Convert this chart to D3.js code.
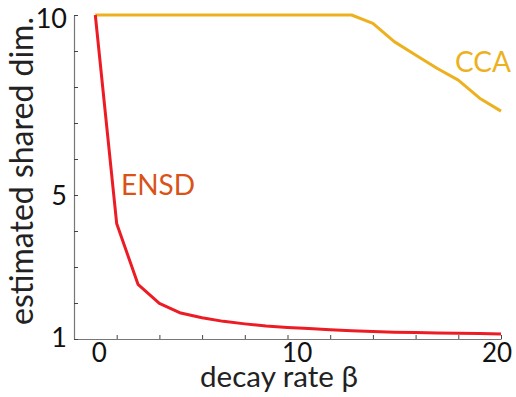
<!DOCTYPE html>
<html><head><meta charset="utf-8">
<script src="https://cdn.jsdelivr.net/npm/d3@7"></script>
<style>html,body{margin:0;padding:0;background:#fff;}svg{display:block;}</style>
</head><body>
<svg id="c" width="516" height="397"></svg>
<script>
// data
const betaValues = [0, 1.053, 2.105, 3.158, 4.211, 5.263, 6.316, 7.368, 8.421, 9.474, 10.526, 11.579, 12.632, 13.684, 14.737, 15.789, 16.842, 17.895, 18.947, 20];
const ensdValues = [10, 4.21, 2.52, 1.99, 1.72, 1.59, 1.49, 1.42, 1.36, 1.32, 1.29, 1.26, 1.23, 1.21, 1.19, 1.18, 1.17, 1.16, 1.15, 1.14];
const ccaValues  = [10, 10, 10, 10, 10, 10, 10, 10, 10, 10, 10, 10, 10, 9.77, 9.26, 8.89, 8.52, 8.19, 7.69, 7.33];
const xTickLabels = [0, 10, 20];
const yTickLabels = [1, 5, 10];
const xLabel = "decay rate β";
const yLabel = "estimated shared dim.";
const seriesNames = ["ENSD", "CCA"];

const svg = d3.select("#c");
const font = "Lato, 'Open Sans', sans-serif";
const x = d3.scaleLinear().domain([-1.05, 20]).range([74, 501]);
const y = d3.scaleLinear().domain([1, 10]).range([339, 15]);

const axisColor = "#444";
const xMinor = d3.range(11).map(i => x.domain()[0] + i * (x.domain()[1] - x.domain()[0]) / 10);
const yMinor = d3.range(1, 11);

svg.append("g").attr("transform", `translate(0,${y(1)})`)
  .call(d3.axisBottom(x).tickValues(xMinor).tickSizeInner(-4).tickSizeOuter(0).tickFormat(""));
svg.append("g").attr("transform", `translate(${x(-1.05)},0)`)
  .call(d3.axisLeft(y).tickValues(yMinor).tickSizeInner(-4).tickSizeOuter(0).tickFormat(""));
svg.selectAll(".domain").attr("stroke", "#777").attr("stroke-width", 1.2);
svg.selectAll(".tick line").attr("stroke", axisColor).attr("stroke-width", 1);

// tick labels
const xLabelShift = {0: 4, 10: -1, 20: -4};
svg.append("g").selectAll("text").data(xTickLabels).join("text")
  .attr("x", d => x(d) + xLabelShift[d]).attr("y", 362)
  .attr("text-anchor", "middle").attr("font-family", font).attr("font-size", 26)
  .attr("fill", "#111").text(d => d);
const yLabelShift = {1: 8, 5: 10, 10: 13};
svg.append("g").selectAll("text").data(yTickLabels).join("text")
  .attr("x", 67).attr("y", d => y(d) + yLabelShift[d])
  .attr("text-anchor", "end").attr("font-family", font).attr("font-size", 27)
  .attr("fill", "#111").text(d => d);

// axis titles
function fit(sel, target) {
  const w = sel.node().getComputedTextLength();
  const fs = parseFloat(sel.attr("font-size"));
  sel.attr("font-size", fs * target / w);
}
const xt = svg.append("text").attr("x", 279).attr("y", 387).attr("text-anchor", "middle")
  .attr("font-family", font).attr("font-size", 25).attr("fill", "#222").text(xLabel);
fit(xt, 158);
const yt = svg.append("text").attr("transform", "translate(33,171) rotate(-90)").attr("text-anchor", "middle")
  .attr("font-family", font).attr("font-size", 25).attr("fill", "#222").text(yLabel);
fit(yt, 308);

// lines
const line = vals => d3.line().x((d, i) => x(betaValues[i])).y(d => y(d))(vals);
svg.append("path").attr("d", line(ccaValues)).attr("fill", "none")
  .attr("stroke", "#EDB120").attr("stroke-width", 3).attr("stroke-linejoin", "round");
svg.append("path").attr("d", line(ensdValues)).attr("fill", "none")
  .attr("stroke", "#ED1C24").attr("stroke-width", 3).attr("stroke-linejoin", "round");

// series labels
svg.append("text").attr("x", 121).attr("y", 195).attr("font-family", font).attr("font-size", 28)
  .attr("fill", "#D95319").text(seriesNames[0]);
svg.append("text").attr("x", 455).attr("y", 72).attr("font-family", font).attr("font-size", 28)
  .attr("fill", "#EDB120").text(seriesNames[1]);
</script>
</body></html>
